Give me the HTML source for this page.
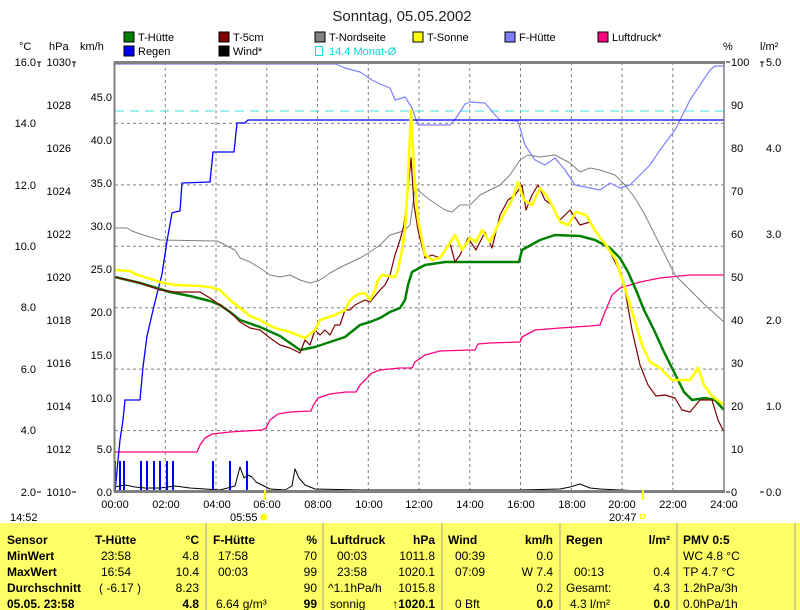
<!DOCTYPE html>
<html><head><meta charset="utf-8"><style>
body{margin:0;background:#fff;width:800px;height:610px;overflow:hidden}
svg{display:block;font-family:"Liberation Sans",sans-serif}
</style></head><body>
<svg width="800" height="610" viewBox="0 0 800 610" xmlns="http://www.w3.org/2000/svg">
<rect width="800" height="610" fill="#fff"/>
<text x="402" y="21" font-size="15" text-anchor="middle" fill="#222">Sonntag, 05.05.2002</text>
<g font-size="11" fill="#000">
<rect x="124" y="32" width="10" height="10" fill="#008000" stroke="#000"/><text x="138" y="41">T-Hütte</text>
<rect x="219" y="32" width="10" height="10" fill="#800000" stroke="#000"/><text x="233" y="41">T-5cm</text>
<rect x="315" y="32" width="10" height="10" fill="#808080" stroke="#000"/><text x="329" y="41">T-Nordseite</text>
<rect x="413" y="32" width="10" height="10" fill="#ffff00" stroke="#000"/><text x="427" y="41">T-Sonne</text>
<rect x="505" y="32" width="10" height="10" fill="#8080ff" stroke="#000"/><text x="519" y="41">F-Hütte</text>
<rect x="598" y="32" width="10" height="10" fill="#ff0080" stroke="#000"/><text x="612" y="41">Luftdruck*</text>
<rect x="124" y="46" width="10" height="10" fill="#0000ff" stroke="#000"/><text x="138" y="55">Regen</text>
<rect x="219" y="46" width="10" height="10" fill="#000" stroke="#000"/><text x="233" y="55">Wind*</text>
<rect x="315.5" y="46.5" width="7" height="9" fill="none" stroke="#00e0e0"/><text x="329" y="55" fill="#00d8d8">14.4 Monat-Ø</text>
<text x="19" y="50">°C</text><text x="49" y="50">hPa</text><text x="80" y="50">km/h</text>
<text x="723" y="50">%</text><text x="760" y="50">l/m²</text>
</g>
<g stroke="#808080" stroke-dasharray="3,3" stroke-width="1">
<line x1="165.3" y1="62" x2="165.3" y2="492"/><line x1="216" y1="62" x2="216" y2="492"/><line x1="266.8" y1="62" x2="266.8" y2="492"/><line x1="317.5" y1="62" x2="317.5" y2="492"/><line x1="368.3" y1="62" x2="368.3" y2="492"/><line x1="419" y1="62" x2="419" y2="492"/><line x1="469.8" y1="62" x2="469.8" y2="492"/><line x1="520.5" y1="62" x2="520.5" y2="492"/><line x1="571.3" y1="62" x2="571.3" y2="492"/><line x1="622" y1="62" x2="622" y2="492"/><line x1="672.8" y1="62" x2="672.8" y2="492"/>
<line x1="115" y1="123.4" x2="724" y2="123.4"/><line x1="115" y1="184.9" x2="724" y2="184.9"/><line x1="115" y1="246.3" x2="724" y2="246.3"/><line x1="115" y1="307.7" x2="724" y2="307.7"/><line x1="115" y1="369.1" x2="724" y2="369.1"/><line x1="115" y1="430.6" x2="724" y2="430.6"/>
</g>
<line x1="115" y1="111" x2="724" y2="111" stroke="#40e0e0" stroke-dasharray="9,6"/>
<g stroke="#0000ff" stroke-width="2">
<line x1="115" y1="461" x2="115" y2="492"/><line x1="120" y1="461" x2="120" y2="492"/><line x1="124" y1="461" x2="124" y2="492"/><line x1="141" y1="461" x2="141" y2="492"/><line x1="147" y1="461" x2="147" y2="492"/><line x1="154" y1="461" x2="154" y2="492"/><line x1="160" y1="461" x2="160" y2="492"/><line x1="167" y1="461" x2="167" y2="492"/><line x1="173" y1="461" x2="173" y2="492"/><line x1="213" y1="461" x2="213" y2="492"/><line x1="230" y1="461" x2="230" y2="492"/><line x1="247" y1="461" x2="247" y2="492"/>
</g>
<g fill="none" stroke-linejoin="round">
<polyline stroke="#000" stroke-width="1" points="115,487 125,485 135,487 145,488 160,488 175,486 190,488 205,489 220,490 235,486 240,467 244,478 248,475 252,477 256,482 262,485 270,489 285,490 292,486 295,469 299,478 305,485 315,489 360,490 450,490 520,490 560,489 570,487 580,484 590,488 600,489 620,490 640,491 724,491"/>
<polyline stroke="#ff0080" stroke-width="1.3" points="115,452 197,452 200,445 205,438 212,434 230,432 245,431 262,430 266,428 270,420 278,414 290,412 311,411 313,406 318,398 330,394 346,392 356,392 360,385 372,373 380,370 400,368 412,368 415,362 425,355 440,351 470,350 475,350 478,344 490,343 520,342 522,337 535,330 560,328 590,326 600,325 605,312 612,295 620,288 640,282 660,278 690,275 724,275"/>
<polyline stroke="#8080ff" stroke-width="1.2" points="115,64 336,64 345,68 360,72 372,80 380,84 390,88 395,100 405,97 412,108 418,125 450,125 456,118 465,104 470,102 485,103 495,115 500,120 518,121 525,145 535,160 545,165 555,158 565,170 575,185 590,188 600,190 610,183 620,188 630,185 640,175 650,165 660,150 675,130 690,100 700,85 710,70 715,66 724,66"/>
<polyline stroke="#808080" stroke-width="1" points="115,228 127,228 132,231 140,234 160,240 217,241 225,245 235,250 240,258 250,262 260,268 270,275 280,277 290,275 300,280 310,283 320,280 330,273 345,265 360,258 370,252 380,245 385,240 390,235 400,232 405,230 410,225 415,188 430,200 445,210 452,212 460,205 470,205 480,195 490,190 500,185 510,175 520,160 528,155 540,157 555,155 570,163 580,172 590,168 600,170 615,175 625,185 635,198 645,215 655,235 665,255 675,275 690,290 705,305 724,322"/>
<polyline stroke="#0000ff" stroke-width="1.3" points="115,492 118,460 120,440 123,420 125,400 140,400 143,367 147,336 154,306 162,274 167,241 172,213 175,212 180,211 182,183 210,182 213,152 234,152 237,123 245,123 248,120 724,120"/>
<polyline stroke="#008000" stroke-width="2.5" points="115,277 140,283 150,286 170,292 190,296 210,301 220,305 230,312 240,320 260,327 280,336 300,350 315,347 330,342 345,337 360,325 370,322 380,318 390,312 400,308 405,300 408,285 412,272 425,265 445,262 470,262 500,262 519,262 522,250 540,240 555,235 580,236 595,240 610,248 620,258 628,272 636,290 644,310 654,330 664,352 674,372 684,392 692,400 705,398 715,400 724,410"/>
<polyline stroke="#800000" stroke-width="1.2" points="115,277 140,283 160,290 175,292 200,292 210,298 220,305 230,312 240,322 250,328 260,330 270,338 280,345 290,348 300,353 305,340 310,345 315,330 320,335 325,330 330,335 335,325 340,325 345,310 350,310 355,305 365,300 370,302 375,296 380,290 385,285 390,275 395,255 400,240 404,225 408,190 411,158 414,205 418,230 425,258 432,255 440,258 450,243 455,262 460,255 468,238 476,250 485,232 492,248 500,215 508,200 515,195 522,185 526,210 532,195 538,185 545,200 552,205 560,220 570,210 580,225 590,222 600,238 610,252 618,268 625,290 632,330 640,365 648,385 656,396 665,395 675,398 682,410 690,412 700,400 712,400 718,420 724,432"/>
<polyline stroke="#ffff00" stroke-width="2.6" points="115,270 130,271 135,274 160,282 175,285 200,286 210,287 220,290 230,300 240,308 250,316 260,320 265,323 275,328 290,332 300,336 305,338 315,330 320,320 335,315 345,310 350,300 358,294 365,293 370,300 375,290 378,280 382,275 395,277 398,270 402,250 405,230 408,180 411,110 414,170 418,220 425,255 432,260 440,258 450,243 455,235 462,250 470,238 476,242 482,230 490,242 498,225 505,212 512,200 518,182 524,200 532,205 540,188 546,195 552,205 560,222 568,225 576,212 586,215 596,232 606,245 616,260 624,285 630,305 636,325 642,345 650,362 660,368 672,380 690,380 698,368 704,385 712,396 724,405"/>
</g>
<line x1="114" y1="62.5" x2="725" y2="62.5" stroke="#808080" stroke-width="3"/>
<line x1="114" y1="491.5" x2="725" y2="491.5" stroke="#808080" stroke-width="3"/>
<line x1="114.5" y1="62" x2="114.5" y2="492" stroke="#808080" stroke-width="2"/>
<line x1="724" y1="62" x2="724" y2="492" stroke="#808080" stroke-width="1.5"/>
<line x1="265" y1="490" x2="265" y2="500" stroke="#ffff00" stroke-width="2"/>
<line x1="643" y1="490" x2="643" y2="500" stroke="#ffff00" stroke-width="2"/>
<g font-size="11" fill="#000" text-anchor="end">
<text x="36" y="66">16.0</text><text x="36" y="127">14.0</text><text x="36" y="189">12.0</text><text x="36" y="250">10.0</text><text x="36" y="311">8.0</text><text x="36" y="373">6.0</text><text x="36" y="434">4.0</text><text x="36" y="496">2.0</text>
<text x="71" y="66">1030</text><text x="71" y="109">1028</text><text x="71" y="152">1026</text><text x="71" y="195">1024</text><text x="71" y="238">1022</text><text x="71" y="281">1020</text><text x="71" y="324">1018</text><text x="71" y="367">1016</text><text x="71" y="410">1014</text><text x="71" y="453">1012</text><text x="71" y="496">1010</text>
<text x="112" y="101">45.0</text><text x="112" y="144">40.0</text><text x="112" y="187">35.0</text><text x="112" y="230">30.0</text><text x="112" y="273">25.0</text><text x="112" y="316">20.0</text><text x="112" y="359">15.0</text><text x="112" y="402">10.0</text><text x="112" y="453">5.0</text><text x="112" y="496">0.0</text>
</g>
<g font-size="11" fill="#000">
<text x="731" y="66">100</text><text x="731" y="109">90</text><text x="731" y="152">80</text><text x="731" y="195">70</text><text x="731" y="238">60</text><text x="731" y="281">50</text><text x="731" y="324">40</text><text x="731" y="367">30</text><text x="731" y="410">20</text><text x="731" y="453">10</text><text x="731" y="496">0</text>
<text x="766" y="66">5.0</text><text x="766" y="152">4.0</text><text x="766" y="238">3.0</text><text x="766" y="324">2.0</text><text x="766" y="410">1.0</text><text x="766" y="496">0.0</text>
</g>
<g stroke="#000" stroke-width="1">
<path d="M37 62h4M39 62v5M72 62h4M74 62v5M37 492h4M72 492h4M726 62h4M760 62h4M762 62v5M726 492h4M760 492h4"/>
</g>
<g font-size="11" fill="#000" text-anchor="middle">
<text x="115" y="508">00:00</text><text x="166" y="508">02:00</text><text x="217" y="508">04:00</text><text x="267" y="508">06:00</text><text x="318" y="508">08:00</text><text x="369" y="508">10:00</text><text x="419" y="508">12:00</text><text x="470" y="508">14:00</text><text x="521" y="508">16:00</text><text x="572" y="508">18:00</text><text x="622" y="508">20:00</text><text x="673" y="508">22:00</text><text x="724" y="508">24:00</text>
</g>
<g font-size="11" fill="#000">
<text x="10" y="521">14:52</text><text x="230" y="521">05:55</text><text x="609" y="521">20:47</text>
</g>
<circle cx="264" cy="517" r="3.5" fill="#ffff00"/>
<rect x="640.5" y="514.5" width="4" height="4" fill="none" stroke="#ffff00"/>
<rect x="0" y="523" width="800" height="87" fill="#ffff66"/>
<g stroke="#a0a0a0" stroke-width="1">
<line x1="206" y1="523" x2="206" y2="610"/><line x1="323" y1="523" x2="323" y2="610"/><line x1="442" y1="523" x2="442" y2="610"/><line x1="560" y1="523" x2="560" y2="610"/><line x1="677" y1="523" x2="677" y2="610"/><line x1="795" y1="523" x2="795" y2="610"/>
</g>
<g font-size="12" fill="#000">
<g font-weight="bold">
<text x="7" y="544">Sensor</text><text x="7" y="560">MinWert</text><text x="7" y="576">MaxWert</text><text x="7" y="592">Durchschnitt</text><text x="7" y="608">05.05. 23:58</text>
<text x="95" y="544">T-Hütte</text><text x="213" y="544">F-Hütte</text><text x="330" y="544">Luftdruck</text><text x="448" y="544">Wind</text><text x="566" y="544">Regen</text><text x="683" y="544">PMV 0:5</text>
</g>
<g text-anchor="end">
<text x="199" y="544" font-weight="bold">°C</text><text x="317" y="544" font-weight="bold">%</text><text x="435" y="544" font-weight="bold">hPa</text><text x="553" y="544" font-weight="bold">km/h</text><text x="670" y="544" font-weight="bold">l/m²</text>
<text x="199" y="560">4.8</text><text x="199" y="576">10.4</text><text x="199" y="592">8.23</text><text x="199" y="608" font-weight="bold">4.8</text>
<text x="317" y="560">70</text><text x="317" y="576">99</text><text x="317" y="592">90</text><text x="317" y="608" font-weight="bold">99</text>
<text x="435" y="560">1011.8</text><text x="435" y="576">1020.1</text><text x="435" y="592">1015.8</text><text x="435" y="608" font-weight="bold">↑1020.1</text>
<text x="553" y="560">0.0</text><text x="553" y="576">W 7.4</text><text x="553" y="592">0.2</text><text x="553" y="608" font-weight="bold">0.0</text>
<text x="670" y="576">0.4</text><text x="670" y="592">4.3</text><text x="670" y="608" font-weight="bold">0.0</text>
</g>
<text x="101" y="560">23:58</text><text x="101" y="576">16:54</text><text x="99" y="592">( -6.17 )</text>
<text x="218" y="560">17:58</text><text x="218" y="576">00:03</text><text x="216" y="608">6.64 g/m³</text>
<text x="337" y="560">00:03</text><text x="337" y="576">23:58</text><text x="328" y="592">^1.1hPa/h</text><text x="330" y="608">sonnig</text>
<text x="455" y="560">00:39</text><text x="455" y="576">07:09</text><text x="455" y="608">0 Bft</text>
<text x="574" y="576">00:13</text><text x="566" y="592">Gesamt:</text><text x="570" y="608">4.3 l/m²</text>
<text x="683" y="560">WC 4.8 °C</text><text x="683" y="576">TP 4.7 °C</text><text x="683" y="592">1.2hPa/3h</text><text x="683" y="608">0.0hPa/1h</text>
</g>
</svg>
</body></html>
